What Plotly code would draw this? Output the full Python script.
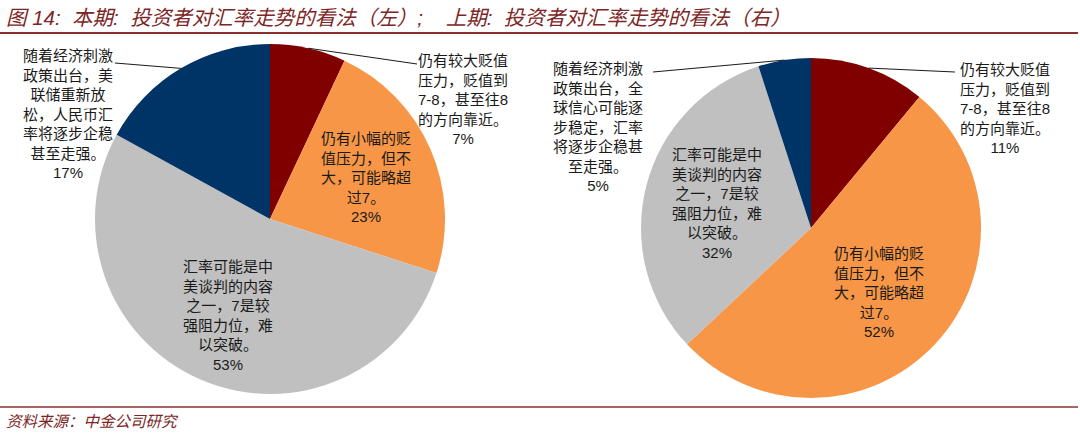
import math
import plotly.graph_objects as go

# ---------------- data ----------------
categories = [
    "仍有较大贬值<br>压力，贬值到<br>7-8，甚至往8<br>的方向靠近。",
    "仍有小幅的贬<br>值压力，但不<br>大，可能略超<br>过7。",
    "汇率可能是中<br>美谈判的内容<br>之一，7是较<br>强阻力位，难<br>以突破。",
    "随着经济刺激<br>政策出台，美<br>联储重新放<br>松，人民币汇<br>率将逐步企稳<br>甚至走强。",
]
categories_prev = [
    "仍有较大贬值<br>压力，贬值到<br>7-8，甚至往8<br>的方向靠近。",
    "仍有小幅的贬<br>值压力，但不<br>大，可能略超<br>过7。",
    "汇率可能是中<br>美谈判的内容<br>之一，7是较<br>强阻力位，难<br>以突破。",
    "随着经济刺激<br>政策出台，全<br>球信心可能逐<br>步稳定，汇率<br>将逐步企稳甚<br>至走强。",
]
current_values = [7, 23, 53, 17]
previous_values = [11, 52, 32, 5]

title_text = "图 14:  本期:  投资者对汇率走势的看法（左）;    上期:  投资者对汇率走势的看法（右）"
source_text = "资料来源：中金公司研究"

# ---------------- style / layout ----------------
W, H = 1080, 433
colors = ["#800000", "#F79646", "#C0C0C0", "#003366"]
label_font = "Liberation Sans, Noto Sans CJK SC, sans-serif"
label_size = 15
dark_red = "#7d2626"

pies = [
    dict(values=current_values, cats=categories, cx=270, cy=219, r=175,
         # per slice: ("in", k) or ("out", label center px, leader end px)
         labels=[("out", (463, 100), (417, 64)), ("in", 0.60), ("in", 0.60),
                 ("out", (68, 114), (115, 63))]),
    dict(values=previous_values, cats=categories_prev, cx=811, cy=228, r=170,
         labels=[("out", (1005, 108), (955, 72)), ("in", 0.55), ("in", 0.57),
                 ("out", (598, 127), (653, 72))]),
]


def px2paper(x, y):
    return x / W, 1 - y / H


fig = go.Figure()
annotations = []
shapes = []

for p in pies:
    x0, y0 = px2paper(p["cx"] - p["r"], p["cy"] + p["r"])
    x1, y1 = px2paper(p["cx"] + p["r"], p["cy"] - p["r"])
    fig.add_trace(go.Pie(
        values=p["values"], labels=[c.replace("<br>", "") for c in p["cats"]],
        sort=False, direction="clockwise", rotation=0,
        marker=dict(colors=colors, line=dict(width=0)),
        textinfo="none", hoverinfo="label+percent", showlegend=False,
        domain=dict(x=[x0, x1], y=[y0, y1]),
    ))
    total = sum(p["values"])
    cum = 0
    for v, cat, lab in zip(p["values"], p["cats"], p["labels"]):
        mid = (cum + v / 2) / total * 2 * math.pi
        cum += v
        pct = round(v / total * 100)
        txt = f"{cat}<br>{pct}%"
        if lab[0] == "in":
            k = lab[1]
            lx = p["cx"] + k * p["r"] * math.sin(mid)
            ly = p["cy"] - k * p["r"] * math.cos(mid)
        else:
            lx, ly = lab[1]
            ex, ey = lab[2]
            sx = p["cx"] + p["r"] * math.sin(mid)
            sy = p["cy"] - p["r"] * math.cos(mid)
            a, b = px2paper(sx, sy)
            c, d = px2paper(ex, ey)
            shapes.append(dict(type="line", xref="paper", yref="paper",
                               x0=a, y0=b, x1=c, y1=d,
                               line=dict(color="#1a1a1a", width=1)))
        ax, ay = px2paper(lx, ly)
        annotations.append(dict(
            x=ax, y=ay, xref="paper", yref="paper", text=txt, showarrow=False,
            xanchor="center", yanchor="middle", align="center",
            font=dict(family=label_font, size=label_size, color="#1a1a1a"),
        ))

# title and source
annotations.append(dict(x=px2paper(4, 0)[0], y=px2paper(0, 17)[1], xref="paper", yref="paper",
                        text=f"<i>{title_text}</i>", showarrow=False,
                        xanchor="left", yanchor="middle",
                        font=dict(family=label_font, size=20.5, color=dark_red)))
annotations.append(dict(x=px2paper(4, 0)[0], y=px2paper(0, 421)[1], xref="paper", yref="paper",
                        text=f"<i>{source_text}</i>", showarrow=False,
                        xanchor="left", yanchor="middle",
                        font=dict(family=label_font, size=15.5, color=dark_red)))

for yy, w in ((33, 2), (407, 1.5)):
    a, b = px2paper(0, yy)
    c, d = px2paper(1078, yy)
    shapes.append(dict(type="line", xref="paper", yref="paper", x0=a, y0=b, x1=c, y1=d,
                       line=dict(color="#8c2f2f", width=w)))

fig.update_layout(
    width=W, height=H, margin=dict(l=0, r=0, t=0, b=0),
    paper_bgcolor="white", plot_bgcolor="white",
    annotations=annotations, shapes=shapes,
)

fig.write_html("out.html")
